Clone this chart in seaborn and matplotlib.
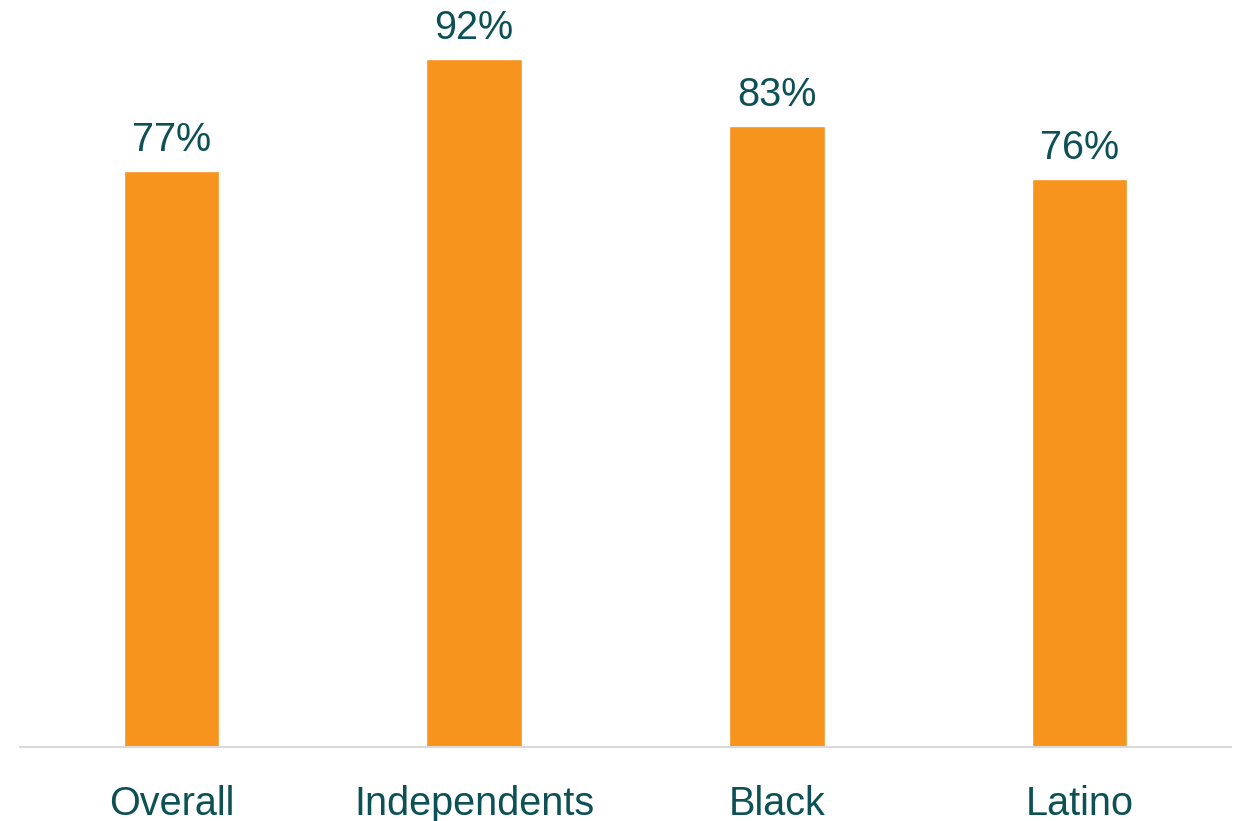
import matplotlib
matplotlib.use("Agg")
import matplotlib.pyplot as plt
import seaborn as sns
import pandas as pd

groups = ["Overall", "Independents", "Black", "Latino"]
shares = [77, 92, 83, 76]

bar_color = "#F7941E"
text_color = "#0D5056"

df = pd.DataFrame({"group": groups, "share": shares})

sns.set_style("white")
plt.rcParams["font.family"] = ["Liberation Sans", "DejaVu Sans"]

fig = plt.figure(figsize=(12.38, 8.21), dpi=100)
ax = fig.add_axes([20 / 1238, 74 / 821, 1211 / 1238, 748 / 821])

sns.barplot(data=df, x="group", y="share", color=bar_color, width=0.315,
            saturation=1, ax=ax)

for i, v in enumerate(shares):
    ax.text(i, v + 1.6, f"{v}%", ha="center", va="bottom",
            fontsize=28.5, color=text_color)

ax.set_xlim(-0.5, 3.5)
ax.set_ylim(0, 100)
ax.set_xlabel("")
ax.set_ylabel("")
ax.set_yticks([])
ax.tick_params(axis="x", length=0, pad=27, labelsize=28.5, labelcolor=text_color)
for side in ["top", "right", "left"]:
    ax.spines[side].set_visible(False)
ax.spines["bottom"].set_color("#D9D9D9")
ax.spines["bottom"].set_linewidth(1.5)

fig.savefig("out.png", dpi=100)
